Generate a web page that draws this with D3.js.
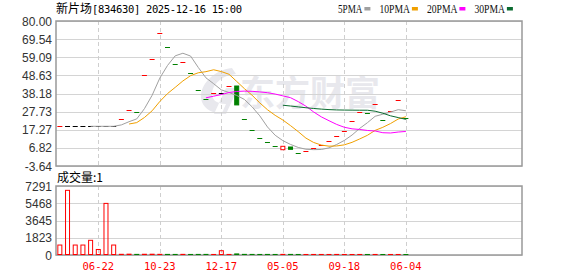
<!DOCTYPE html>
<html>
<head>
<meta charset="utf-8">
<script src="https://cdn.jsdelivr.net/npm/d3@7"></script>
<style>
  body { margin: 0; background: #fff; }
  svg { display: block; }
</style>
</head>
<body>
<div id="chart"></div>
<script>
// 新片场 K线 + 成交量
const titleName = '新片场';
const titleRest = '[834630] 2025-12-16 15:00';

const opens = [19.26, 19.26, 19.26, 19.26, 19.26, 19.26, 19.26, 19.26, 23.30, 28.49,
  27.33, 48.68, 57.91, 72.91, 64.83, 55.20, 56.18, 49.83, 40.03, 34.83,
  38.29, 38.29, 42.33, 42.50, 23.30, 16.95, 12.34, 10.20, 7.72, 5.76,
  7.32, 3.69, 5.01, 6.57, 8.19, 10.61, 13.49, 16.72, 22.14, 27.34,
  27.00, 31.95, 22.78, 28.26, 34.26, 23.87];
const closes = [19.26, 19.26, 19.26, 19.26, 19.26, 19.26, 19.26, 19.26, 23.30, 28.49,
  27.33, 48.68, 57.91, 72.91, 64.83, 55.20, 56.18, 49.83, 40.03, 34.83,
  38.29, 38.29, 42.33, 31.60, 23.30, 16.95, 12.34, 10.20, 7.72, 7.72,
  5.99, 3.69, 5.01, 6.57, 8.19, 10.61, 13.49, 16.72, 22.14, 27.34,
  27.00, 31.95, 22.78, 28.26, 34.26, 23.87];
const preClose = 18.5; // close before the first candle
const volumes = [1000, 6780, 1000, 1000, 1500, 530, 5400, 1000, 20, 35,
  12, 25, 30, 18, 10, 8, 15, 6, 9, 11,
  5, 400, 7, 60, 14, 9, 6, 8, 5, 12,
  10, 4, 3, 6, 5, 4, 8, 3, 2, 5,
  3, 6, 2, 4, 3, 1];

const tickIndex = [5, 13, 21, 29, 37, 45];
const tickLabels = ['06-22', '10-23', '12-17', '05-05', '09-18', '06-04'];
const priceTicks = [80.00, 69.54, 59.09, 48.63, 38.18, 27.73, 17.27, 6.82, -3.64];
const volTicks = [7291, 5468, 3645, 1823, 0];

const maPeriods = [5, 10, 20, 30];
const maNames = ['5PMA', '10PMA', '20PMA', '30PMA'];
const maColors = ['#a0a0a0', '#f0a000', '#ff00ff', '#0b6b30'];

// layout
const width = 578, height = 276;
const left = 56, right = 522;
const mainTop = 21, mainBottom = 166;
const volTop = 186, volBottom = 255;
const slots = 60.6;
const candleW = 5;

const RED = '#ff0000', GREEN = '#008000', BLACK = '#000000';

const svg = d3.select('#chart').append('svg')
  .attr('width', width)
  .attr('height', height)
  .style('font-family', '"Liberation Sans", Arial, sans-serif');

const x = d3.scaleLinear().domain([0, slots]).range([left, right]);
const cx = i => x(i + 0.5);
const y = d3.scaleLinear().domain([d3.min(priceTicks), d3.max(priceTicks)]).range([mainBottom, mainTop]);
const yv = d3.scaleLinear().domain([0, d3.max(volTicks)]).range([volBottom, volTop]);

// candle colour: body direction, flat ones compare with previous close
const colorOf = i => {
  if (closes[i] > opens[i]) return RED;
  if (closes[i] < opens[i]) return GREEN;
  const prev = i === 0 ? preClose : closes[i - 1];
  return closes[i] > prev ? RED : closes[i] < prev ? GREEN : BLACK;
};

// watermark
const wm = svg.append('g').attr('fill', '#e8e8ed');
wm.append('path')
  .attr('d', 'M232,68 C214,70 200,84 201,98 C202,108 212,114 222,113 L226,104 C216,104 211,99 212,92 C214,82 224,75 236,74 Z M226,88 L238,88 L226,114 L214,114 Z');
wm.append('text')
  .attr('x', 240).attr('y', 106)
  .style('font-family', '"Noto Sans CJK SC", sans-serif')
  .style('font-size', '35px')
  .style('font-weight', 'bold')
  .text('东方财富');

// grids
const grid = svg.append('g');
grid.selectAll('.hg')
  .data(priceTicks)
  .join('line')
  .attr('x1', left).attr('x2', right)
  .attr('y1', d => Math.round(y(d)) + 0.5).attr('y2', d => Math.round(y(d)) + 0.5)
  .attr('stroke', '#d4d4d4');
grid.selectAll('.hv')
  .data(volTicks)
  .join('line')
  .attr('x1', left).attr('x2', right)
  .attr('y1', d => Math.round(yv(d)) + 0.5).attr('y2', d => Math.round(yv(d)) + 0.5)
  .attr('stroke', '#d4d4d4');
[[mainTop, mainBottom], [volTop, volBottom]].forEach(([t, b]) => {
  grid.append('g').selectAll('line')
    .data(tickIndex)
    .join('line')
    .attr('x1', d => Math.round(cx(d)) + 0.5).attr('x2', d => Math.round(cx(d)) + 0.5)
    .attr('y1', t).attr('y2', b)
    .attr('stroke', '#cfcfcf')
    .attr('stroke-dasharray', '4,3');
});

// frames
[[mainTop, mainBottom], [volTop, volBottom]].forEach(([t, b]) => {
  svg.append('rect')
    .attr('x', left).attr('y', t)
    .attr('width', right - left).attr('height', b - t)
    .attr('fill', 'none')
    .attr('stroke', '#999')
    .attr('stroke-width', 1.5);
});

// y labels
svg.append('g').selectAll('text')
  .data(priceTicks)
  .join('text')
  .attr('x', 52).attr('y', d => y(d) + 4.5)
  .attr('text-anchor', 'end')
  .style('font-size', '12px')
  .attr('fill', '#333')
  .text(d => d.toFixed(2));
svg.append('g').selectAll('text')
  .data(volTicks)
  .join('text')
  .attr('x', 52).attr('y', d => yv(d) + 4.5)
  .attr('text-anchor', 'end')
  .style('font-size', '12px')
  .attr('fill', '#333')
  .text(d => d);

// x labels
svg.append('g').selectAll('text')
  .data(tickIndex)
  .join('text')
  .attr('x', d => cx(d)).attr('y', 270)
  .attr('text-anchor', 'middle')
  .style('font-family', '"DejaVu Sans Mono", monospace')
  .style('font-size', '10.5px')
  .attr('fill', RED)
  .text((d, k) => tickLabels[k]);

// candles
const idx = d3.range(closes.length);
const candles = svg.append('g');
idx.forEach(i => {
  const c = colorOf(i);
  const top = y(Math.max(opens[i], closes[i]));
  const bot = y(Math.min(opens[i], closes[i]));
  if (bot - top < 1) {
    candles.append('line')
      .attr('x1', cx(i) - candleW / 2).attr('x2', cx(i) + candleW / 2)
      .attr('y1', Math.round(top) + 0.5).attr('y2', Math.round(top) + 0.5)
      .attr('stroke', c);
  } else {
    candles.append('rect')
      .attr('x', cx(i) - candleW / 2 + 0.5).attr('y', top)
      .attr('width', candleW - 1).attr('height', bot - top)
      .attr('fill', c === RED ? '#fff' : c)
      .attr('stroke', c);
  }
});

// moving averages
maPeriods.forEach((p, k) => {
  const ma = idx.map(i => i < p - 1 ? null : d3.mean(closes.slice(i - p + 1, i + 1)));
  svg.append('path')
    .datum(idx.filter(i => ma[i] !== null))
    .attr('fill', 'none')
    .attr('stroke', maColors[k])
    .attr('stroke-width', 1)
    .attr('d', d3.line().x(i => cx(i)).y(i => y(ma[i])));
});

// volume bars
const vbars = svg.append('g');
idx.forEach(i => {
  const c = colorOf(i) === GREEN ? GREEN : RED;
  const h = Math.max(yv(0) - yv(volumes[i]), 0);
  vbars.append('rect')
    .attr('x', cx(i) - candleW / 2 + 0.5).attr('y', yv(volumes[i]) - 0.5)
    .attr('width', candleW - 1).attr('height', h)
    .attr('fill', c === RED ? 'none' : c)
    .attr('stroke', c);
});

// title
const title = svg.append('text')
  .attr('x', 56).attr('y', 13)
  .attr('fill', '#000');
title.append('tspan')
  .style('font-family', '"Noto Sans CJK SC", sans-serif')
  .style('font-size', '12px')
  .text(titleName);
title.append('tspan')
  .style('font-family', '"DejaVu Sans Mono", monospace')
  .style('font-size', '10.5px')
  .attr('textLength', 150)
  .text(titleRest);

// legend
let lx = 338;
maNames.forEach((name, k) => {
  const tw = name.length * 6.1;
  svg.append('text')
    .attr('x', lx).attr('y', 12.5)
    .style('font-family', '"Liberation Serif", serif')
    .style('font-size', '12.5px')
    .attr('fill', '#111')
    .attr('textLength', tw)
    .attr('lengthAdjust', 'spacingAndGlyphs')
    .text(name);
  svg.append('rect')
    .attr('x', lx + tw + 2).attr('y', 7)
    .attr('width', 6).attr('height', 3.5)
    .attr('fill', maColors[k]);
  lx += tw + 2 + 6 + 9;
});

// volume label
svg.append('text')
  .attr('x', 57).attr('y', 182)
  .style('font-family', '"Noto Sans CJK SC", sans-serif')
  .style('font-size', '12px')
  .attr('fill', '#000')
  .text('成交量:' + volumes[volumes.length - 1]);
</script>
</body>
</html>
